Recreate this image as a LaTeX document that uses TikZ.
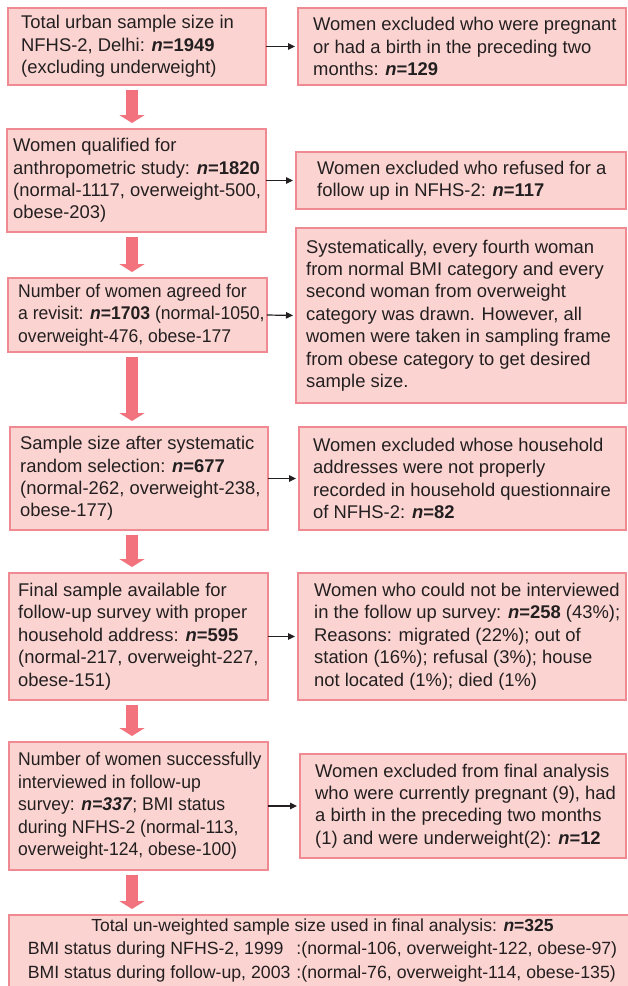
\documentclass[tikz,border=0pt]{standalone}
\usepackage{fontspec}
\setmainfont{Liberation Sans}
\newfontfamily\condensed[FakeStretch=0.955]{Liberation Sans}
\usetikzlibrary{arrows.meta,calc}
\definecolor{boxfill}{HTML}{FBD4D1}
\definecolor{boxline}{HTML}{F08A92}
\definecolor{bigarr}{HTML}{F2737D}
\definecolor{ink}{HTML}{231F20}
\newcommand\nb[1]{\textbf{\textit{n}=#1}}
\newcommand\bx[5]{\node[box, minimum width={(#4-#2)*1pt}, minimum height={(#5-#3)*1pt}] (#1) at ({(#2+#4)/2},{(#3+#5)/2}) {};}
\newcommand\tx[3]{\node[txt, anchor=west] (#1t) at ([xshift=#2pt]#1.west) {#3};}
\newcommand\txc[3]{\node[txt, font=\condensed\fontsize{18.4}{22.4}\selectfont, anchor=west] (#1t) at ([xshift=#2pt]#1.west) {#3};}
\tikzset{
  box/.style={draw=boxline, fill=boxfill, line width=1.3pt, inner sep=0pt, outer sep=0pt},
  txt/.style={align=left, inner sep=0pt, text=ink, font=\fontsize{18.4}{22.4}\selectfont},
  bigarrow/.style={draw=bigarr, line width=12pt, -{Triangle[width=25pt,length=8pt]}},
  smallarrow/.style={draw=ink, line width=1.2pt, -{Triangle[length=7pt,width=6.5pt]}, shorten >=3pt}
}
\begin{document}
\begin{tikzpicture}[x=1pt, y=-1pt]
\useasboundingbox (0,0) rectangle (627,986);
\fill[white] (0,0) rectangle (627,986);
\coordinate (ax) at (132,0);
% left column
\bx{L1}{8}{8}{266}{85}
\tx{L1}{13}{Total urban sample size in\\NFHS-2, Delhi: \nb{1949}\\(excluding underweight)}
\bx{L2}{7}{129}{266}{232}
\tx{L2}{6}{Women qualified for\\anthropometric study: \nb{1820}\\(normal-1117, overweight-500,\\obese-203)}
\bx{L3}{8}{278}{267}{352}
\txc{L3}{10}{Number of women agreed for\\a revisit: \nb{1703} (normal-1050,\\overweight-476, obese-177}
\bx{L4}{10}{427}{268}{530}
\tx{L4}{10}{Sample size after systematic\\random selection: \nb{677}\\(normal-262, overweight-238,\\obese-177)}
\bx{L5}{9}{573}{268}{700}
\tx{L5}{9}{Final sample available for\\follow-up survey with proper\\household address: \nb{595}\\(normal-217, overweight-227,\\obese-151)}
\bx{L6}{9}{742}{268}{870}
\txc{L6}{9}{Number of women successfully\\interviewed in follow-up\\survey: \textbf{\textit{n=337}}; BMI status\\during NFHS-2 (normal-113,\\overweight-124, obese-100)}
% right column
\bx{R1}{298}{8}{626}{85}
\tx{R1}{15}{Women excluded who were pregnant\\or had a birth in the preceding two\\months: \nb{129}}
\bx{R2}{296}{152}{626}{209}
\tx{R2}{21}{Women excluded who refused for a\\follow up in NFHS-2: \nb{117}}
\bx{R3}{296}{228}{626}{403}
\tx{R3}{10}{Systematically, every fourth woman\\from normal BMI category and every\\second woman from overweight\\category was drawn. However, all\\women were taken in sampling frame\\from obese category to get desired\\sample size.}
\bx{R4}{299}{427}{626}{530}
\tx{R4}{14}{Women excluded whose household\\addresses were not properly\\recorded in household questionnaire\\of NFHS-2: \nb{82}}
\bx{R5}{298}{573}{626}{700}
\tx{R5}{16}{Women who could not be interviewed\\in the follow up survey: \nb{258} (43\%);\\Reasons: migrated (22\%); out of\\station (16\%); refusal (3\%); house\\not located (1\%); died (1\%)}
\bx{R6}{300}{754}{626}{858}
\tx{R6}{15}{Women excluded from final analysis\\who were currently pregnant (9), had\\a birth in the preceding two months\\(1) and were underweight(2): \nb{12}}
% bottom
\bx{B}{9}{915}{640}{989}
\node[inner sep=0pt, text=ink, align=center, font=\fontsize{17.5}{23.5}\selectfont] (Bt) at ([xshift=-2pt]B.center)
 {Total un-weighted sample size used in final analysis: \nb{325}\\
  \fontsize{17.7}{23.5}\selectfont
  \begin{tabular}[t]{@{}l@{}l@{}}BMI status during NFHS-2, 1999 & :(normal-106, overweight-122, obese-97)\\
  BMI status during follow-up, 2003\hspace{6pt} & :(normal-76, overweight-114, obese-135)\end{tabular}};
% small arrows
\foreach \i in {1,...,6}{\draw[smallarrow] (L\i.east) -- (R\i.west);}
% big arrows
\draw[bigarrow] ($(L1.south -| ax)+(0,5)$) -- ($(L2.north -| ax)+(0,-6)$);
\draw[bigarrow] ($(L2.south -| ax)+(0,5)$) -- ($(L3.north -| ax)+(0,-6)$);
\draw[bigarrow] ($(L3.south -| ax)+(0,5)$) -- ($(L4.north -| ax)+(0,-6)$);
\draw[bigarrow] ($(L4.south -| ax)+(0,5)$) -- ($(L5.north -| ax)+(0,-6)$);
\draw[bigarrow] ($(L5.south -| ax)+(0,5)$) -- ($(L6.north -| ax)+(0,-6)$);
\draw[bigarrow] ($(L6.south -| ax)+(0,5)$) -- ($(B.north -| ax)+(0,-6)$);
\end{tikzpicture}
\end{document}
